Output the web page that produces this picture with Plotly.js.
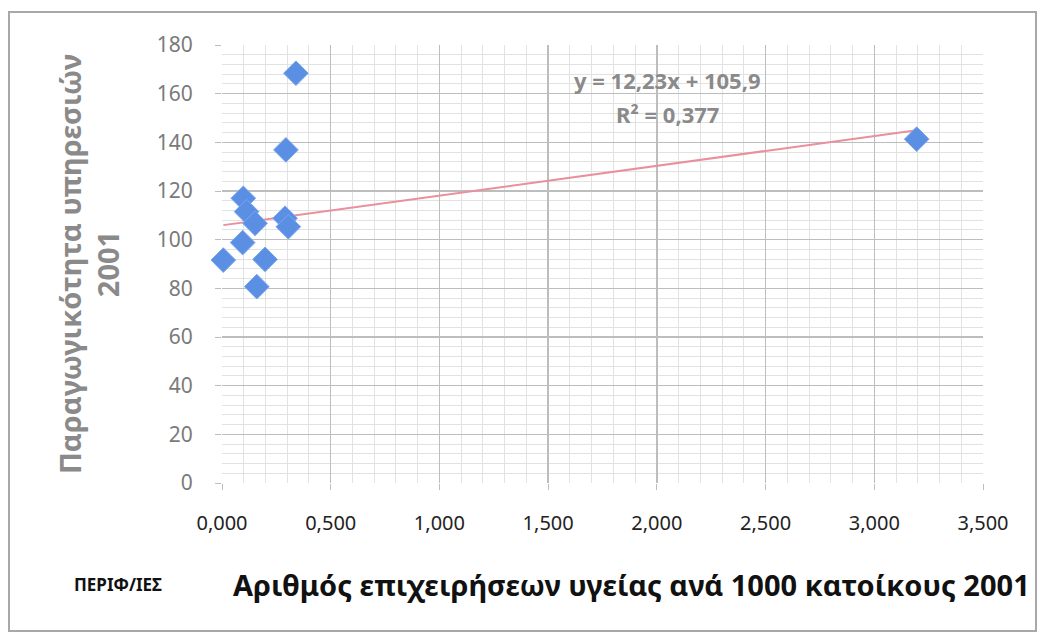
<!DOCTYPE html>
<html>
<head>
<meta charset="utf-8">
<script src="https://cdn.plot.ly/plotly-3.0.1.min.js"></script>
<style>
  body { margin: 0; background: #fff; }
  #wrap { position: relative; width: 1040px; height: 641px; }
  #chart { width: 1040px; height: 641px; }
  #frame { position: absolute; left: 8px; top: 11px; width: 1025px; height: 617px;
           border: 2px solid #a8a8a8; pointer-events: none; }
</style>
</head>
<body>
<div id="wrap"><div id="chart"></div><div id="frame"></div></div>
<script>
// Data
const firmsPer1000 = [0.006, 0.095, 0.098, 0.113, 0.152, 0.160, 0.198, 0.290, 0.294, 0.305, 0.340, 3.195];
const productivity = [91.6, 98.8, 117.0, 111.5, 106.7, 80.7, 91.9, 108.8, 136.9, 105.3, 168.4, 141.3];
const trendSlope = 12.23;
const trendIntercept = 105.9;
const equationText = ["y = 12,23x + 105,9", "R² = 0,377"];
const xTickVals = [0, 0.5, 1, 1.5, 2, 2.5, 3, 3.5];
const yTickVals = [0, 20, 40, 60, 80, 100, 120, 140, 160, 180];
const xTitle = "Αριθμός επιχειρήσεων υγείας ανά 1000 κατοίκους 2001";
const yTitle = "Παραγωγικότητα υπηρεσιών<br>2001";
const cornerLabel = "ΠΕΡΙΦ/ΙΕΣ";

const xMin = Math.min(...firmsPer1000), xMax = Math.max(...firmsPer1000);
const trendX = [xMin, xMax];
const trendY = trendX.map(v => trendSlope * v + trendIntercept);

const FONT = "Noto Sans, Open Sans, sans-serif";
const M = { l: 222, r: 57, t: 45, b: 158 };
const plotW = 1040 - M.l - M.r, plotH = 641 - M.t - M.b;
function px2paperX(px) { return (px - M.l) / plotW; }
function px2paperY(py) { return (641 - M.b - py) / plotH; }

const traces = [
  {
    x: trendX, y: trendY, type: "scatter", mode: "lines",
    line: { color: "#e8909c", width: 2 }, hoverinfo: "skip", showlegend: false
  },
  {
    x: firmsPer1000, y: productivity, type: "scatter", mode: "markers",
    cliponaxis: false,
    marker: { symbol: "diamond", size: 19, color: "#5a8fe3",
              line: { color: "#7aa6ee", width: 1 } },
    showlegend: false
  }
];

const layout = {
  width: 1040, height: 641,
  margin: M,
  paper_bgcolor: "#ffffff", plot_bgcolor: "#ffffff",
  separators: ",.",
  font: { family: FONT },
  xaxis: {
    range: [0, 3.5], tickvals: xTickVals, tickformat: ".3f",
    showgrid: true, gridcolor: "#bdbdbd", gridwidth: 1.5,
    minor: { dtick: 0.1, showgrid: true, gridcolor: "#e2e2e2", gridwidth: 1 },
    zeroline: false, showline: false,
    ticks: "outside", ticklen: 6, tickcolor: "#bdbdbd",
    ticklabelstandoff: 16,
    tickfont: { size: 20, color: "#222", family: FONT }
  },
  yaxis: {
    range: [0, 180], tickvals: yTickVals,
    showgrid: true, gridcolor: "#bdbdbd", gridwidth: 1.5,
    minor: { dtick: 4, showgrid: true, gridcolor: "#e2e2e2", gridwidth: 1 },
    zeroline: false, showline: false,
    ticks: "outside", ticklen: 6, tickcolor: "#bdbdbd",
    ticklabelstandoff: 18,
    tickfont: { size: 21, color: "#7a7a7a", family: FONT },
    title: { text: yTitle, standoff: 28,
             font: { size: 29, color: "#8a8a8a", family: FONT, weight: "bold" } }
  },
  annotations: [
    { xref: "paper", yref: "paper", x: px2paperX(631), y: px2paperY(584),
      xanchor: "center", yanchor: "middle",
      text: "<b>" + xTitle + "</b>", showarrow: false,
      font: { size: 29, color: "#111", family: FONT } },
    { xref: "x", yref: "y", x: 2.05, y: 165.5, text: "<b>" + equationText[0] + "</b>",
      showarrow: false, font: { size: 22, color: "#8a8a8a", family: FONT } },
    { xref: "x", yref: "y", x: 2.05, y: 151.5, text: "<b>" + equationText[1] + "</b>",
      showarrow: false, font: { size: 22, color: "#8a8a8a", family: FONT } },
    { xref: "paper", yref: "paper", x: px2paperX(118), y: px2paperY(584),
      xanchor: "center", yanchor: "middle",
      text: "<b>" + cornerLabel + "</b>",
      showarrow: false, font: { size: 17, color: "#111", family: FONT } }
  ]
};

Plotly.newPlot("chart", traces, layout, { displayModeBar: false, staticPlot: true });
</script>
</body>
</html>
